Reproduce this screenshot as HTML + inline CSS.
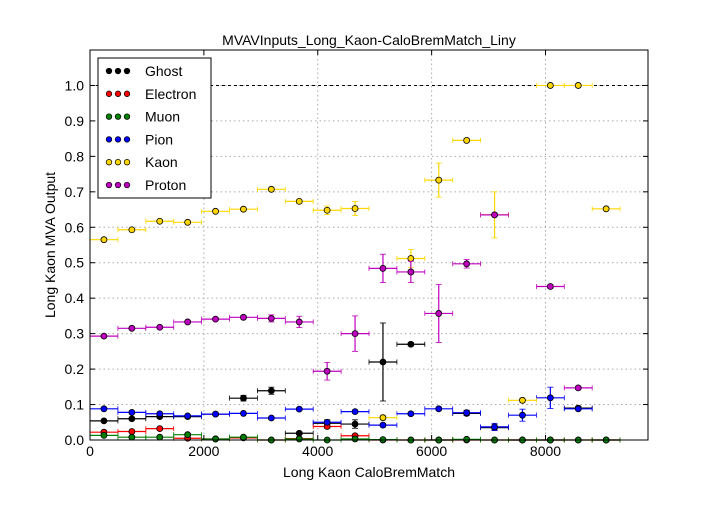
<!DOCTYPE html>
<html><head><meta charset="utf-8">
<style>
body{margin:0;background:#fff;width:720px;height:504px;overflow:hidden;font-family:"Liberation Sans",sans-serif}
svg text{font-family:"Liberation Sans",sans-serif}
</style></head>
<body>
<svg id="chart" width="720" height="504" xmlns="http://www.w3.org/2000/svg"></svg>
<script>
const binCenters=[245,735,1225,1715,2205,2695,3185,3675,4165,4655,5145,5635,6125,6615,7105,7595,8085,8575,9065];
const seriesNames=["Ghost","Electron","Muon","Pion","Kaon","Proton"];
const seriesColors=["#000000","#ff0000","#008000","#0000ff","#ffd700","#bf00bf"];
const ghostVals=[0.054,0.060,0.066,0.066,0.073,0.118,0.139,0.019,0.047,0.045,0.22,0.27,0.0,0.075,0.035,0.0,0.0,0.09,0.0];
const ghostErr=[0.003,0.003,0.003,0.003,0.004,0.008,0.01,0.004,0.01,0.012,0.11,0.005,0,0.006,0.008,0,0,0.005,0];
const electronVals=[0.022,0.024,0.032,0.005,0.003,0.006,0.0,0.004,0.038,0.012,0.0,0.0,0.0,0.0,0.0,0.0,0.0,0.0,0.0];
const electronErr=[0.002,0.002,0.003,0.002,0.002,0.002,0,0.002,0.005,0.004,0,0,0,0,0,0,0,0,0];
const muonVals=[0.013,0.008,0.008,0.015,0.003,0.008,0.0,0.003,0.0,0.003,0.001,0.0,0.0,0.002,0.0,0.0,0.0,0.0,0.0];
const muonErr=[0.002,0.002,0.002,0.003,0.002,0.002,0,0.002,0,0.002,0,0,0,0.001,0,0,0,0,0];
const pionVals=[0.088,0.078,0.074,0.068,0.073,0.075,0.062,0.087,0.05,0.08,0.042,0.074,0.088,0.077,0.037,0.07,0.119,0.088,null];
const pionErr=[0.002,0.002,0.002,0.002,0.002,0.002,0.003,0.003,0.004,0.004,0.005,0.004,0.005,0.007,0.01,0.017,0.03,0.004,0];
const kaonVals=[0.565,0.593,0.617,0.614,0.645,0.651,0.707,0.673,0.648,0.653,0.063,0.512,0.733,0.845,0.635,0.112,1.0,1.0,0.652];
const kaonErr=[0.003,0.003,0.004,0.004,0.004,0.005,0.006,0.006,0.012,0.02,0.007,0.025,0.048,0.005,0.065,0.006,0.002,0.002,0.004];
const protonVals=[0.293,0.315,0.318,0.333,0.341,0.346,0.343,0.333,0.194,0.3,0.484,0.474,0.357,0.497,0.635,null,0.433,0.147,null];
const protonErr=[0.003,0.003,0.003,0.004,0.004,0.005,0.01,0.016,0.025,0.05,0.04,0.03,0.082,0.012,0.005,0,0.005,0.005,0];
const allVals=[ghostVals,electronVals,muonVals,pionVals,kaonVals,protonVals];
const allErr=[ghostErr,electronErr,muonErr,pionErr,kaonErr,protonErr];
const xTicks=[0,2000,4000,6000,8000];
const yTicks=[0,0.1,0.2,0.3,0.4,0.5,0.6,0.7,0.8,0.9,1.0];
const binHalf=245;

const L=90,R=648,T=50,B=440,XMAX=9800,YMAX=1.1;
const xs=v=>L+v/XMAX*(R-L);
const ys=v=>B-v/YMAX*(B-T);
const svg=document.getElementById('chart');
const NS="http://www.w3.org/2000/svg";
function el(tag,attrs,parent){const e=document.createElementNS(NS,tag);for(const k in attrs)e.setAttribute(k,attrs[k]);(parent||svg).appendChild(e);return e;}

const grid=el('g',{});


xTicks.forEach(t=>{if(t>0)el('line',{x1:xs(t),x2:xs(t),y1:T,y2:B,stroke:'#aaa','stroke-dasharray':'1.5,3'},grid);});
yTicks.forEach(t=>{if(t>0)el('line',{x1:L,x2:R,y1:ys(t),y2:ys(t),stroke:'#aaa','stroke-dasharray':'1.5,3'},grid);});
const ref=el('line',{x1:L,x2:R,y1:ys(1),y2:ys(1),stroke:'#000','stroke-dasharray':'3,3','stroke-width':1});



allVals.forEach((vals,si)=>{
  const g=el('g',{});
  
  
  const c=seriesColors[si];
  vals.forEach((v,i)=>{
    if(v===null)return;
    const x=xs(binCenters[i]),y=ys(v),e=allErr[si][i];
    const x0=xs(binCenters[i]-binHalf),x1=xs(binCenters[i]+binHalf);
    el('line',{x1:x0,x2:x1,y1:y,y2:y,stroke:c,'stroke-width':1.2},g);
    el('line',{x1:x0,x2:x0,y1:y-2.5,y2:y+2.5,stroke:c,'stroke-width':0.8},g);
    el('line',{x1:x1,x2:x1,y1:y-2.5,y2:y+2.5,stroke:c,'stroke-width':0.8},g);
    if(e>0){
      const ya=ys(v+e),yb=ys(Math.max(0,v-e));
      el('line',{x1:x,x2:x,y1:ya,y2:yb,stroke:c,'stroke-width':1.2},g);
      el('line',{x1:x-3,x2:x+3,y1:ya,y2:ya,stroke:c,'stroke-width':0.8},g);
      el('line',{x1:x-3,x2:x+3,y1:yb,y2:yb,stroke:c,'stroke-width':0.8},g);
    }
    const m=el('circle',{cx:x,cy:y,r:3,fill:c,stroke:'#000','stroke-width':0.8},g);
    
    
  });
});

const frame=el('rect',{x:L,y:T,width:R-L,height:B-T,fill:'none',stroke:'#000','stroke-width':1});


xTicks.forEach(t=>{
  el('line',{x1:xs(t),x2:xs(t),y1:B,y2:B-5,stroke:'#000'});
  el('line',{x1:xs(t),x2:xs(t),y1:T,y2:T+5,stroke:'#000'});
  const tx=el('text',{x:xs(t),y:B+16,'text-anchor':'middle','font-size':14});
  tx.textContent=t;
  
  
});
yTicks.forEach(t=>{
  el('line',{x1:L,x2:L+5,y1:ys(t),y2:ys(t),stroke:'#000'});
  el('line',{x1:R,x2:R-5,y1:ys(t),y2:ys(t),stroke:'#000'});
  const tx=el('text',{x:L-6,y:ys(t)+5,'text-anchor':'end','font-size':14});
  tx.textContent=t.toFixed(1);
  
  
});
const title=el('text',{x:(L+R)/2,y:45,'text-anchor':'middle','font-size':14});
title.textContent='MVAVInputs_Long_Kaon-CaloBremMatch_Liny';


const xt=el('text',{x:(L+R)/2,y:477,'text-anchor':'middle','font-size':14});
xt.textContent='Long Kaon CaloBremMatch';


const yt=el('text',{x:0,y:0,'text-anchor':'middle','font-size':14,transform:'translate(55,245) rotate(-90)'});
yt.textContent='Long Kaon MVA Output';



const lg=el('g',{});


el('rect',{x:98,y:58,width:113,height:140,fill:'#fff',stroke:'#000'},lg);
seriesNames.forEach((n,i)=>{
  const y=71+i*22.8;
  const ent=el('g',{},lg);
  
  
  [109,118,127].forEach(cx=>el('circle',{cx:cx,cy:y,r:2.8,fill:seriesColors[i],stroke:'#000','stroke-width':0.7},ent));
  const t=el('text',{x:145,y:y+5,'font-size':14},ent);
  t.textContent=n;
});
</script>
</body></html>
